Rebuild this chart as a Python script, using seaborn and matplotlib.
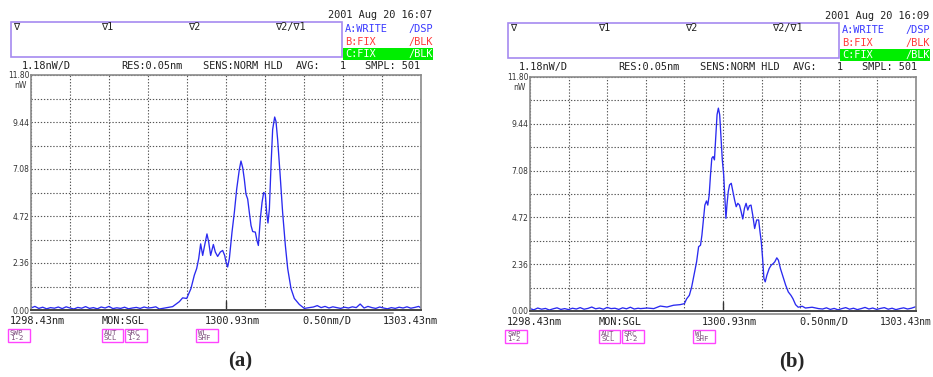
import matplotlib
matplotlib.use("Agg")
import matplotlib.pyplot as plt
from matplotlib.patches import Rectangle
from matplotlib.lines import Line2D
import pandas as pd
import seaborn as sns

# ---- trace data ----
wl_a = [1298.43, 1298.48, 1298.53, 1298.58, 1298.63, 1298.68, 1298.73, 1298.78, 1298.83, 1298.88,
        1298.93, 1298.98, 1299.03, 1299.08, 1299.13, 1299.18, 1299.23, 1299.28, 1299.33, 1299.38,
        1299.43, 1299.48, 1299.53, 1299.58, 1299.63, 1299.68, 1299.73, 1299.78, 1299.83, 1299.88,
        1299.93, 1299.98, 1300.03,
        1300.075, 1300.246, 1300.332, 1300.374, 1300.426, 1300.481, 1300.524, 1300.554, 1300.580, 1300.605,
        1300.631, 1300.656, 1300.686, 1300.708, 1300.733, 1300.768, 1300.793, 1300.823, 1300.857, 1300.887,
        1300.913, 1300.930, 1300.951, 1300.973, 1301.007, 1301.037, 1301.067, 1301.101, 1301.122, 1301.144,
        1301.165, 1301.186, 1301.208, 1301.229, 1301.251, 1301.272, 1301.306, 1301.327, 1301.345, 1301.370,
        1301.392, 1301.413, 1301.434, 1301.451, 1301.468, 1301.486, 1301.507, 1301.528, 1301.554, 1301.571,
        1301.592, 1301.622, 1301.656, 1301.691, 1301.721, 1301.763, 1301.806, 1301.870, 1301.934, 1301.998,
        1302.05, 1302.10, 1302.15, 1302.20, 1302.25, 1302.30, 1302.35, 1302.40, 1302.45, 1302.50,
        1302.55, 1302.60, 1302.65, 1302.70, 1302.75, 1302.80, 1302.85, 1302.90, 1302.95, 1303.00,
        1303.05, 1303.10, 1303.15, 1303.20, 1303.25, 1303.30, 1303.35, 1303.40, 1303.43]
nw_a = [0.10, 0.18, 0.08, 0.14, 0.06, 0.12, 0.09, 0.15, 0.07, 0.16,
        0.10, 0.05, 0.13, 0.09, 0.17, 0.08, 0.12, 0.06, 0.15, 0.10,
        0.18, 0.07, 0.11, 0.08, 0.14, 0.06, 0.10, 0.13, 0.08, 0.15,
        0.10, 0.12, 0.16,
        0.05, 0.17, 0.42, 0.61, 0.58, 1.08, 1.75, 2.08, 2.58, 3.32,
        2.74, 3.24, 3.82, 3.41, 2.74, 3.29, 2.91, 2.69, 2.91, 2.99,
        2.74, 2.41, 2.16, 2.58, 3.91, 4.90, 6.07, 7.06, 7.48, 7.15,
        6.56, 5.82, 5.57, 4.90, 4.24, 3.94, 3.91, 3.49, 3.24, 4.57,
        5.40, 5.90, 5.82, 4.90, 4.37, 5.07, 7.23, 9.06, 9.69, 9.47,
        8.56, 6.90, 4.90, 3.24, 2.08, 1.08, 0.58, 0.28, 0.08, 0.12,
        0.15, 0.22, 0.12, 0.18, 0.10, 0.16, 0.12, 0.08, 0.14, 0.10,
        0.16, 0.12, 0.30, 0.10, 0.18, 0.12, 0.08, 0.15, 0.10, 0.06,
        0.12, 0.08, 0.14, 0.10, 0.16, 0.09, 0.13, 0.18, 0.10]

wl_b = [1298.43, 1298.48, 1298.53, 1298.58, 1298.63, 1298.68, 1298.73, 1298.78, 1298.83, 1298.88,
        1298.93, 1298.98, 1299.03, 1299.08, 1299.13, 1299.18, 1299.23, 1299.28, 1299.33, 1299.38,
        1299.43, 1299.48, 1299.53, 1299.58, 1299.63, 1299.68, 1299.73, 1299.78, 1299.83,
        1299.862, 1299.947, 1300.033, 1300.118, 1300.204, 1300.289, 1300.374, 1300.430, 1300.460, 1300.494,
        1300.524, 1300.554, 1300.588, 1300.614, 1300.639, 1300.657, 1300.674, 1300.695, 1300.716, 1300.733,
        1300.751, 1300.768, 1300.785, 1300.802, 1300.819, 1300.836, 1300.853, 1300.870, 1300.887, 1300.904,
        1300.921, 1300.939, 1300.956, 1300.968, 1300.981, 1300.998, 1301.015, 1301.037, 1301.058, 1301.080,
        1301.101, 1301.122, 1301.144, 1301.165, 1301.186, 1301.208, 1301.229, 1301.251, 1301.272, 1301.293,
        1301.315, 1301.340, 1301.366, 1301.392, 1301.409, 1301.426, 1301.443, 1301.460, 1301.477, 1301.498,
        1301.528, 1301.554, 1301.580, 1301.601, 1301.627, 1301.648, 1301.674, 1301.708, 1301.742, 1301.776,
        1301.810, 1301.836, 1301.870, 1301.904, 1301.956, 1301.998, 1302.084, 1302.169,
        1302.22, 1302.27, 1302.32, 1302.37, 1302.42, 1302.47, 1302.52, 1302.57, 1302.62, 1302.67,
        1302.72, 1302.77, 1302.82, 1302.87, 1302.92, 1302.97, 1303.02, 1303.07, 1303.12, 1303.17,
        1303.22, 1303.27, 1303.32, 1303.37, 1303.43]
nw_b = [0.12, 0.06, 0.15, 0.09, 0.13, 0.05, 0.11, 0.16, 0.08, 0.12,
        0.07, 0.14, 0.10, 0.17, 0.09, 0.13, 0.20, 0.11, 0.15, 0.09,
        0.18, 0.12, 0.14, 0.08, 0.16, 0.11, 0.19, 0.10, 0.14,
        0.12, 0.15, 0.12, 0.25, 0.20, 0.29, 0.32, 0.37, 0.62, 0.79,
        1.21, 1.80, 2.48, 3.24, 3.32, 3.83, 4.50, 5.34, 5.55, 5.34,
        5.85, 6.86, 7.70, 7.79, 7.62, 8.72, 9.90, 10.23, 9.90, 8.72,
        7.62, 6.86, 5.51, 4.67, 5.34, 6.02, 6.36, 6.44, 6.02, 5.60,
        5.26, 5.43, 5.34, 5.01, 4.64, 5.18, 5.43, 5.09, 5.31, 5.34,
        4.84, 4.16, 4.59, 4.59, 4.00, 3.49, 2.65, 1.64, 1.47, 1.80,
        2.14, 2.31, 2.39, 2.48, 2.68, 2.56, 2.14, 1.72, 1.30, 0.96,
        0.79, 0.62, 0.32, 0.19, 0.24, 0.15, 0.19, 0.12,
        0.10, 0.16, 0.08, 0.13, 0.06, 0.12, 0.17, 0.09, 0.14, 0.07,
        0.12, 0.18, 0.10, 0.15, 0.08, 0.13, 0.17, 0.09, 0.14, 0.07,
        0.12, 0.16, 0.10, 0.14, 0.22]

y_ticks = [0.00, 1.18, 2.36, 3.54, 4.72, 5.90, 7.08, 8.26, 9.44, 10.62, 11.80]
y_labels = ["0.00", "", "2.36", "", "4.72", "", "7.08", "", "9.44", "", "11.80"]
x_ticks = [1298.43, 1298.93, 1299.43, 1299.93, 1300.43, 1300.93,
           1301.43, 1301.93, 1302.43, 1302.93, 1303.43]
stamps = ["2001 Aug 20 16:07", "2001 Aug 20 16:09"]

sns.set_style("white")
plt.rcParams['font.family'] = ['DejaVu Sans']

W, H = 933, 377
fig = plt.figure(figsize=(9.33, 3.77), dpi=100)
MONO = "DejaVu Sans Mono"


def fx(px):
    return px / W


def fy(py):
    return 1 - py / H


def ftext(x, y, s, color="#222222", size=7.4, **kw):
    fig.text(fx(x), fy(y), s, color=color, fontsize=size, family=MONO,
             va="center", ha=kw.pop("ha", "left"), **kw)


def draw_panel(wl, nw, ax_box, dx, dy, stamp, tag, bar_end, end_size):
    x0, x1, top, bot = ax_box
    ax = fig.add_axes([fx(x0), fy(bot), (x1 - x0) / W, (bot - top) / H])
    df = pd.DataFrame({"wl": wl, "nw": nw})
    sns.lineplot(data=df, x="wl", y="nw", ax=ax, color="#2a2af0", lw=0.95,
                 estimator=None, sort=False)
    ax.set_xlim(1298.43, 1303.43)
    ax.set_ylim(0, 11.8)
    ax.set_xticks(x_ticks)
    ax.set_xticklabels([])
    ax.set_yticks(y_ticks)
    ax.set_yticklabels(y_labels, fontsize=5.5, color="#333333")
    ax.tick_params(length=0, pad=1)
    ax.set_xlabel("")
    ax.set_ylabel("")
    ax.grid(True, color="#555555", lw=0.8, linestyle=(0, (1.2, 1.6)))
    for side in ["top", "right", "left"]:
        ax.spines[side].set_color("#8a8a8a")
        ax.spines[side].set_linewidth(1.2)
    ax.spines["bottom"].set_color("#444444")
    ax.spines["bottom"].set_linewidth(1.4)
    ax.axvline(1300.93, ymax=0.04, color="#333333", lw=1)
    ax.text(-0.012, 0.955, "nW", transform=ax.transAxes, ha="right", va="center",
            fontsize=5.5, color="#333333")
    fig.add_artist(Line2D([fx(x0), fx(bar_end)], [fy(bot + 2.5)] * 2,
                          color="#9a9a9a", lw=1.4))

    # header: date, marker box, trace states
    ftext(328 + dx, 15 + dy, stamp)
    fig.add_artist(Rectangle((fx(11 + dx), fy(57 + dy)), fx(331), 35 / H,
                             fill=False, ec="#a58af0", lw=1.2))
    for xm, s in [(13, "\u2207"), (101, "\u22071"), (188, "\u22072"), (275, "\u22072/\u22071")]:
        ftext(xm + dx, 27 + dy, s)
    ftext(345 + dx, 29 + dy, "A:WRITE", color="#3a3aff")
    ftext(408 + dx, 29 + dy, "/DSP", color="#3a3aff")
    ftext(345 + dx, 42 + dy, "B:FIX", color="#ff3a3a")
    ftext(408 + dx, 42 + dy, "/BLK", color="#ff3a3a")
    fig.add_artist(Rectangle((fx(343 + dx), fy(60 + dy)), fx(90), 12 / H,
                             fc="#00ee00", ec="none"))
    ftext(345 + dx, 54 + dy, "C:FIX", color="white")
    ftext(408 + dx, 54 + dy, "/BLK", color="white")

    # status line
    for xs, s in [(22, "1.18nW/D"), (121, "RES:0.05nm"), (203, "SENS:NORM HLD"),
                  (296, "AVG:"), (340, "1"), (365, "SMPL: 501")]:
        ftext(xs + dx, 66 + dy, s)

    # wavelength line under the plot
    for xs, s in [(10, "1298.43nm"), (102, "MON:SGL"), (205, "1300.93nm"),
                  (302, "0.50nm/D")]:
        ftext(xs + dx, 321 + dy, s)
    ftext(383 + dx, 321 + dy, "1303.43nm", size=end_size)

    # soft-key boxes
    for xb, wb, s in [(8, 22, "SWP\n1-2"), (102, 21, "AUT\nSCL"),
                      (125, 22, "SRC\n1-2"), (196, 22, "WL\nSHF")]:
        fig.add_artist(Rectangle((fx(xb + dx), fy(342 + dy)), fx(wb), 13 / H,
                                 fill=False, ec="#ff44ff", lw=1))
        fig.text(fx(xb + dx + 2), fy(335.5 + dy), s, fontsize=5.3, family=MONO,
                 color="#7a4a7a", va="center", ha="left", linespacing=0.8)

    fig.text(fx(240 + dx * 1.11), fy(361), tag, fontsize=15, fontweight="bold",
             family="Liberation Serif", ha="center", va="center")


draw_panel(wl_a, nw_a, (31, 421, 75, 310), 0, 0, stamps[0], "(a)", 393, 7.4)
draw_panel(wl_b, nw_b, (530, 916, 77, 311), 497, 1, stamps[1], "(b)", 810, 6.9)

fig.savefig("out.png", dpi=100)
